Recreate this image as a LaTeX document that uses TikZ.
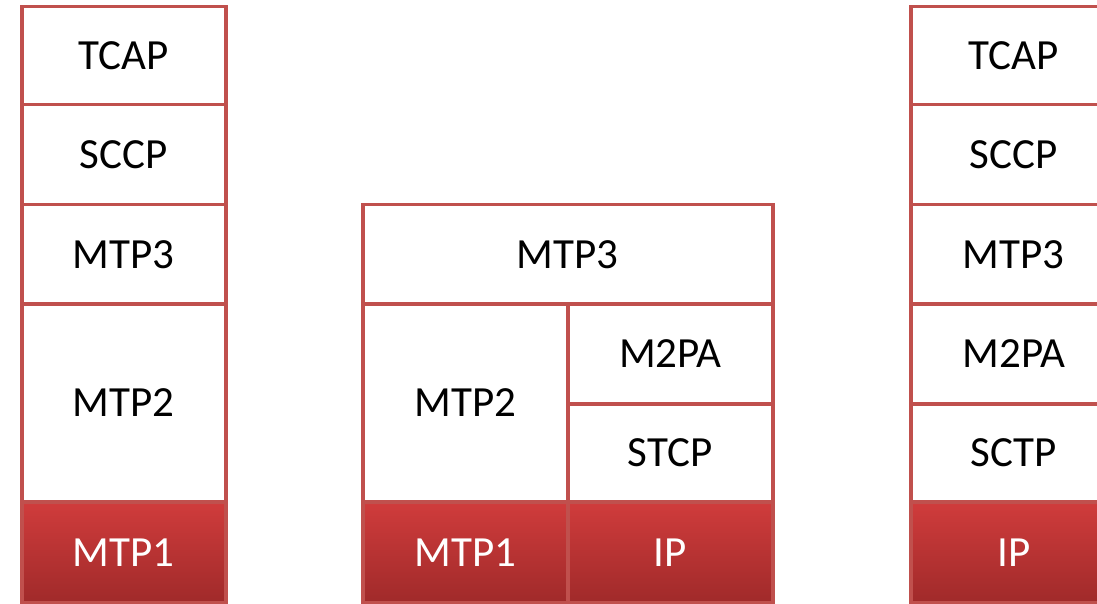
\documentclass[tikz,border=0pt]{standalone}
\usepackage{fontspec}
\setmainfont{Carlito}
\usepackage{tikz}

\definecolor{edgered}{RGB}{192,80,77}
\definecolor{topred}{RGB}{208,60,60}
\definecolor{lowred}{RGB}{160,42,42}

\tikzset{
  layer/.style={draw=edgered, line width=3.5pt, fill=white, rectangle, inner sep=0pt,
    anchor=north west, font=\fontsize{43}{50}\selectfont, text=black},
  base/.style={layer, top color=topred, bottom color=lowred, text=white},
}

\begin{document}
\begin{tikzpicture}[x=1pt,y=1pt,yscale=-1,xscale=1]
\useasboundingbox (0,0) rectangle (1097,604);

%Left stack
\node [layer, minimum width=204pt, minimum height=98pt] (ltcap) at (20,5) {TCAP};
\node [layer, minimum width=204pt, minimum height=100pt] (lsccp) at (20,103) {SCCP};
\node [layer, minimum width=204pt, minimum height=99pt] (lmtp3) at (20,203) {MTP3};
\node [layer, minimum width=204pt, minimum height=198pt] (lmtp2) at (20,302) {MTP2};
\node [base, minimum width=204pt, minimum height=101pt] (lmtp1) at (20,500) {MTP1};

%Middle stack
\node [layer, minimum width=410pt, minimum height=99pt] (mmtp3) at (361,203) {MTP3};
\node [layer, minimum width=205pt, minimum height=198pt] (mmtp2) at (361,302) {MTP2};
\node [layer, minimum width=205pt, minimum height=100pt] (mm2pa) at (566,302) {M2PA};
\node [layer, minimum width=205pt, minimum height=98pt] (mstcp) at (566,402) {STCP};
\node [base, minimum width=205pt, minimum height=101pt] (mmtp1) at (361,500) {MTP1};
\node [base, minimum width=205pt, minimum height=101pt] (mip) at (566,500) {IP};

%Right stack
\node [layer, minimum width=206pt, minimum height=98pt] (rtcap) at (909,5) {TCAP};
\node [layer, minimum width=206pt, minimum height=100pt] (rsccp) at (909,103) {SCCP};
\node [layer, minimum width=206pt, minimum height=99pt] (rmtp3) at (909,203) {MTP3};
\node [layer, minimum width=206pt, minimum height=100pt] (rm2pa) at (909,302) {M2PA};
\node [layer, minimum width=206pt, minimum height=98pt] (rsctp) at (909,402) {SCTP};
\node [base, minimum width=206pt, minimum height=101pt] (rip) at (909,500) {IP};

\end{tikzpicture}
\end{document}
